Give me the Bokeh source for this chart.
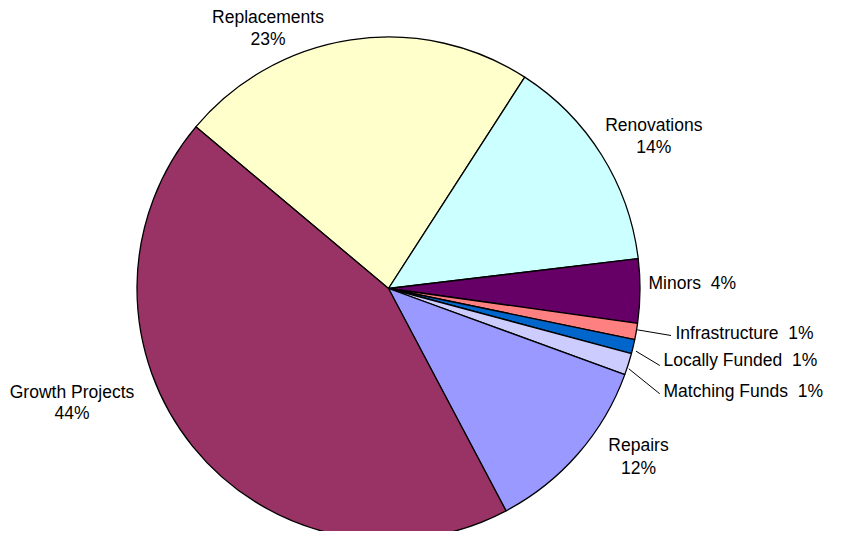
import numpy as np
from bokeh.plotting import figure
from bokeh.models import Range1d, ColumnDataSource
from bokeh.core.properties import value
from bokeh.embed import file_html
from bokeh.resources import INLINE

# ---- data ----
categories = ["Replacements", "Renovations", "Minors", "Infrastructure",
              "Locally Funded", "Matching Funds", "Repairs", "Growth Projects"]
amounts = [23.0, 14.0, 4.1, 1.05, 0.9, 1.4, 11.7, 43.85]
colors = ["#FFFFCC", "#CCFFFF", "#660066", "#FF8080",
          "#0066CC", "#CCCCFF", "#9999FF", "#993366"]

W, H = 833, 531
TEXT_SHIFT = -6.5


def X(rx):
    return rx


def Y(ry):
    return H - ry


def YT(ry):
    return H - (ry + TEXT_SHIFT)


vals = np.array(amounts, dtype=float)
total = vals.sum()
frac = vals / total
cum = np.concatenate([[0.0], np.cumsum(frac)])
start_deg = 140.0
starts = np.radians(start_deg - cum[:-1] * 360.0)
ends = np.radians(start_deg - cum[1:] * 360.0)
pcts = [f"{int(round(f * 100))}%" for f in frac]

cx, cy, r = X(388), Y(288), 251.5

src = ColumnDataSource(dict(cat=categories, start=starts, end=ends, color=colors,
                            x=[cx] * len(categories), y=[cy] * len(categories)))

p = figure(width=W, height=H, output_backend="svg", toolbar_location=None,
           x_range=Range1d(0, W), y_range=Range1d(0, H),
           x_axis_type=None, y_axis_type=None, min_border=0)
p.outline_line_color = None
p.grid.visible = False
p.background_fill_color = "white"

p.wedge(x="x", y="y", radius=r, start_angle="start", end_angle="end",
        direction="clock", fill_color="color", line_color="black",
        line_width=1.3, source=src)

font = value("Liberation Sans")
fs = "17.5px"
idx = {c: i for i, c in enumerate(categories)}

# two-line centred labels: (category, centre x, baseline1, baseline2)
centered = [("Replacements", 267.5, 22.6, 45.0),
            ("Renovations", 653.3, 131.3, 153.0),
            ("Repairs", 638.0, 451.3, 474.3),
            ("Growth Projects", 71.5, 398.0, 419.3)]
tx, ty, tt = [], [], []
for c, x, b1, b2 in centered:
    tx += [X(x), X(x)]
    ty += [YT(b1), YT(b2)]
    tt += [c, pcts[idx[c]]]
p.text(x=tx, y=ty, text=tt, text_font=font, text_font_size=fs,
       text_align="center", text_baseline="alphabetic", text_color="black")

# single-line left labels
single = [("Minors", 648.0, 289.3),
          ("Infrastructure", 675.0, 339.3),
          ("Locally Funded", 663.0, 366.3),
          ("Matching Funds", 663.0, 397.0)]
p.text(x=[X(s[1]) for s in single], y=[YT(s[2]) for s in single],
       text=[f"{s[0]}\u00a0 {pcts[idx[s[0]]]}" for s in single],
       text_font=font, text_font_size=fs, text_align="left",
       text_baseline="alphabetic", text_color="black")

# leader lines
lead = [((636.7, 329.3), (670.5, 335.0)),
        ((635.5, 350.7), (659.3, 365.0)),
        ((628.3, 368.3), (659.3, 393.3))]
p.segment(x0=[X(a[0]) for a, b in lead], y0=[Y(a[1]) for a, b in lead],
          x1=[X(b[0]) for a, b in lead], y1=[Y(b[1]) for a, b in lead],
          line_color="black", line_width=1)

open("out.html", "w").write(file_html(p, INLINE))
